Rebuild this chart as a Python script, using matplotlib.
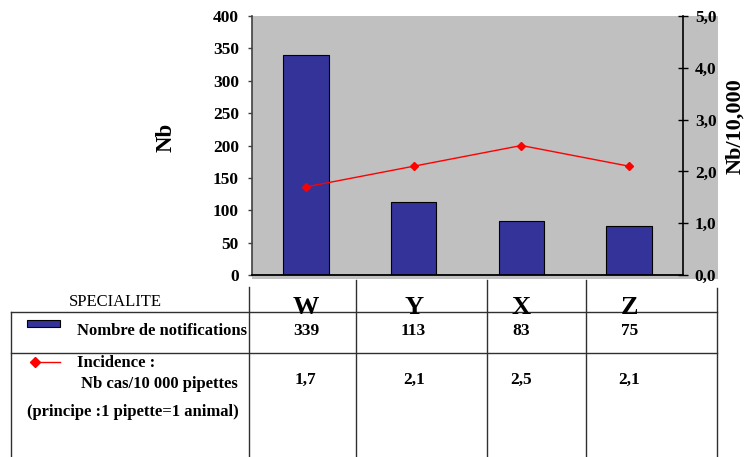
import matplotlib
matplotlib.use("Agg")
import matplotlib.pyplot as plt
import matplotlib.transforms as mtransforms
from matplotlib.patches import Rectangle

# Données
specialites = ["W", "Y", "X", "Z"]
notifications = [339, 113, 83, 75]
incidence = [1.7, 2.1, 2.5, 2.1]
yticks_nb = [0, 50, 100, 150, 200, 250, 300, 350, 400]
yticks_inc = [0.0, 1.0, 2.0, 3.0, 4.0, 5.0]

plt.rcParams["font.family"] = ["Liberation Serif", "DejaVu Serif"]

W, H = 747, 457
fig = plt.figure(figsize=(W / 100, H / 100), dpi=100)

# calque de fond : fond gris + tableau (coordonnées en pixels)
ov = fig.add_axes([0, 0, 1, 1], zorder=-1)
ov.set_xlim(0, W)
ov.set_ylim(H, 0)
ov.axis("off")
ov.add_patch(Rectangle((252, 16), 718 - 252, 279 - 16, facecolor="#c0c0c0",
                       edgecolor="none", zorder=0))

ax = fig.add_axes([252 / W, 1 - 275 / H, (683 - 252) / W, (275 - 16) / H])
ax.set_facecolor("none")
x = range(len(specialites))
ax.bar(x, notifications, width=0.42, color="#333399", edgecolor="black", lw=0.8, zorder=2)
ax.set_xlim(-0.5, 3.5)
ax.set_ylim(0, 400)
ax.set_yticks(yticks_nb)
ax.set_yticklabels([str(v) for v in yticks_nb], fontsize=12.5, fontweight="bold")
ax.set_xticks([])
ax.tick_params(axis="y", direction="out", length=3, width=1, color="#404040", pad=6.5)
ax.spines["top"].set_visible(False)
ax.spines["right"].set_visible(False)
ax.spines["left"].set_color("#404040")
ax.spines["left"].set_linewidth(1.2)
ax.spines["bottom"].set_linewidth(1.3)
ax.set_ylabel("Nb", fontsize=16.5, fontweight="bold")
ax.yaxis.set_label_coords(-0.176, 0.533)

ax2 = ax.twinx()
ax2.plot(x, incidence, color="red", lw=1, marker="D", ms=4, zorder=3)
ax2.set_ylim(0, 5)
ax2.set_yticks(yticks_inc)
ax2.set_yticklabels([f"{v:.1f}".replace(".", ",") for v in yticks_inc],
                    fontsize=12.5, fontweight="bold")
ax2.tick_params(axis="y", direction="inout", length=7, width=1, pad=5)
ax2.spines["top"].set_visible(False)
ax2.spines["left"].set_visible(False)
ax2.spines["bottom"].set_visible(False)
ax2.spines["right"].set_linewidth(1.2)
ax2.set_ylabel("Nb/10,000", fontsize=16, fontweight="bold")
ax2.yaxis.set_label_coords(1.099, 0.575)

# Tableau sous le graphique
lc = "#303030"
ov.plot([11, 717], [312, 312], color=lc, lw=1)
ov.plot([11, 717], [353, 353], color=lc, lw=1)
ov.plot([11, 11], [312, 457], color=lc, lw=1)
ov.plot([249, 249], [287, 457], color=lc, lw=1)
for xv in [356, 487, 586]:
    ov.plot([xv, xv], [280, 457], color=lc, lw=1)
ov.plot([717, 717], [288, 457], color=lc, lw=1)

ov.text(115, 302, "SPECIALITE", fontsize=12, ha="center", va="center")
ov.add_patch(Rectangle((27, 320), 33, 7, facecolor="#333399", edgecolor="black", lw=0.8))
ov.text(77, 331, "Nombre de notifications", fontsize=12, fontweight="bold", va="center")
ov.plot([35, 60], [362, 362], color="red", lw=1)
ov.plot([35], [362], color="red", marker="D", ms=5)
ov.text(77, 363, "Incidence :", fontsize=12, fontweight="bold", va="center")
ov.text(81, 384, "Nb cas/10 000 pipettes", fontsize=12, fontweight="bold", va="center")
ov.text(27, 412, "(principe :1 pipette=1 animal)", fontsize=12, fontweight="bold", va="center")

tr = mtransforms.blended_transform_factory(ax.transData, ov.transData)
for i, s in enumerate(specialites):
    ov.text(i, 314, s, transform=tr, fontsize=19, fontweight="bold",
            ha="center", va="baseline")
    ov.text(i, 331, str(notifications[i]), transform=tr, fontsize=12.5,
            fontweight="bold", ha="center", va="center")
    ov.text(i, 380, f"{incidence[i]:.1f}".replace(".", ","), transform=tr,
            fontsize=12.5, fontweight="bold", ha="center", va="center")

fig.savefig("out.png", dpi=100)
